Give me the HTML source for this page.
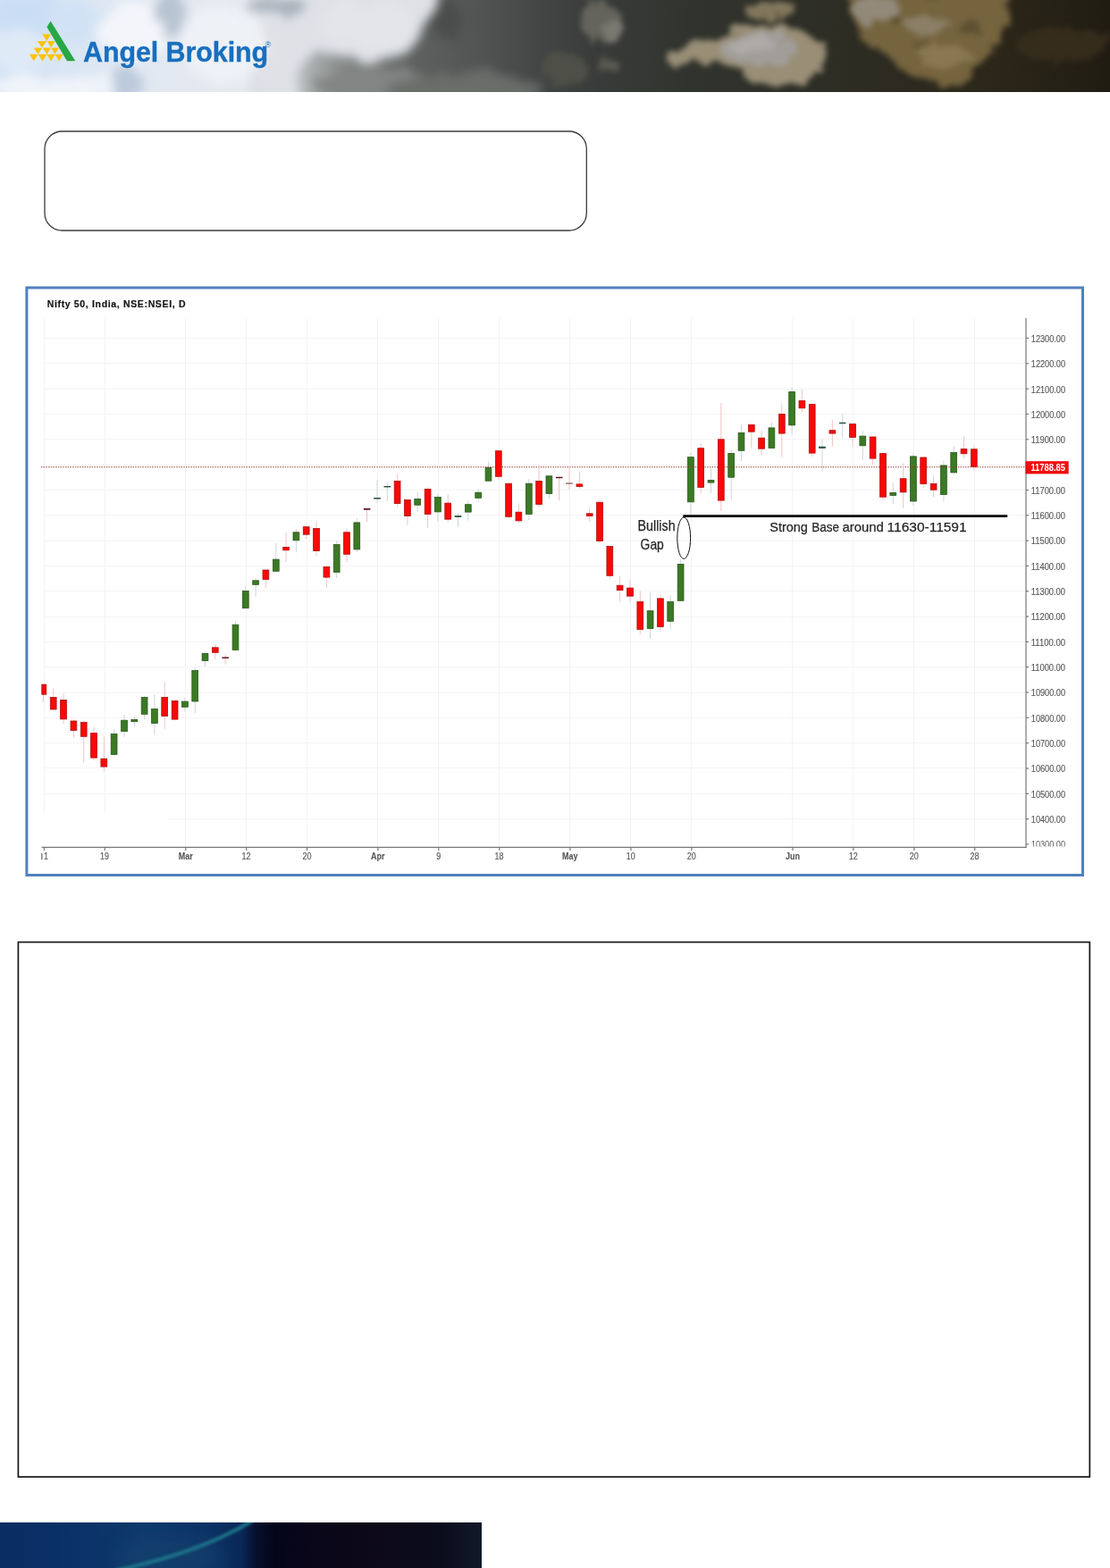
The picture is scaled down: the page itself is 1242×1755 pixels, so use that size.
<!DOCTYPE html>
<html lang="en"><head><meta charset="utf-8"><title>Angel Broking - Nifty 50</title>
<style>
html,body{margin:0;padding:0;background:#fff}
body{width:1242px;height:1755px;position:relative;overflow:hidden;font-family:"Liberation Sans",Arial,sans-serif}
.abs{position:absolute}
#hdr{left:0;top:0;width:1242px;height:102.5px;overflow:hidden}
#hdr svg{position:absolute;left:0;top:0}
#brand{left:93px;top:40.9px;-webkit-text-stroke:0.35px #186fbe;font-weight:bold;font-size:30.5px;line-height:34px;color:#186fbe;white-space:nowrap;letter-spacing:-0.1px}
#reg{left:296.8px;top:45.2px;font-size:9px;line-height:10px;color:#1a70bd}
#ftr{left:0;top:1704px;width:539px;height:51px;overflow:hidden}
svg.chart{position:absolute;left:0;top:0}
</style></head><body>
<div id="hdr" class="abs"><svg width="1242" height="103" viewBox="0 0 1242 103">
<defs>
<linearGradient id="hb" x1="0" x2="1242" y1="0" y2="0" gradientUnits="userSpaceOnUse">
<stop offset="0" stop-color="#d2e2f4"/>
<stop offset="0.1" stop-color="#dfe8f3"/>
<stop offset="0.22" stop-color="#e6e9ef"/>
<stop offset="0.27" stop-color="#b9bcbf"/>
<stop offset="0.31" stop-color="#858886"/>
<stop offset="0.37" stop-color="#5f6260"/>
<stop offset="0.44" stop-color="#4f5251"/>
<stop offset="0.485" stop-color="#434645"/>
<stop offset="0.54" stop-color="#383b39"/>
<stop offset="0.62" stop-color="#31342e"/>
<stop offset="0.76" stop-color="#2d2d24"/>
<stop offset="0.90" stop-color="#2b2619"/>
<stop offset="1" stop-color="#211c12"/>
</linearGradient>
<filter id="cl" x="-20%" y="-40%" width="140%" height="180%" color-interpolation-filters="sRGB">
<feTurbulence type="fractalNoise" baseFrequency="0.03" numOctaves="4" seed="7" result="n"/>
<feDisplacementMap in="SourceGraphic" in2="n" scale="30" xChannelSelector="R" yChannelSelector="G" result="d"/>
<feGaussianBlur in="d" stdDeviation="6"/>
</filter>
<filter id="cl2" x="-20%" y="-40%" width="140%" height="180%" color-interpolation-filters="sRGB">
<feTurbulence type="fractalNoise" baseFrequency="0.06" numOctaves="4" seed="3" result="n"/>
<feDisplacementMap in="SourceGraphic" in2="n" scale="22" xChannelSelector="R" yChannelSelector="G" result="d"/>
<feGaussianBlur in="d" stdDeviation="3.4"/>
</filter>
</defs>
<rect width="1242" height="103" fill="url(#hb)"/>
<g filter="url(#cl)">
<path d="M300 -20 L500 -20 L478 30 L462 58 L420 68 L350 62 L335 80 L332 120 L280 120 Z" fill="#dfe1e7"/>
<ellipse cx="30" cy="14" rx="50" ry="18" fill="#c9ddf4"/>
<ellipse cx="85" cy="25" rx="30" ry="26" fill="#d2e2f5"/>
<ellipse cx="20" cy="55" rx="40" ry="20" fill="#dfeaf7"/>
<ellipse cx="60" cy="98" rx="80" ry="16" fill="#f0f4fa"/>
<ellipse cx="150" cy="35" rx="40" ry="32" fill="#f3f5fa"/>
<ellipse cx="188" cy="16" rx="18" ry="26" fill="#b7c3d0"/>
<ellipse cx="142" cy="92" rx="20" ry="16" fill="#bccadb"/>
<ellipse cx="250" cy="50" rx="50" ry="40" fill="#eef1f6"/>
<ellipse cx="312" cy="8" rx="30" ry="10" fill="#a6afba"/>
<ellipse cx="410" cy="28" rx="50" ry="26" fill="#e3e5ea"/>
<ellipse cx="420" cy="96" rx="70" ry="20" fill="#828583"/>
<ellipse cx="500" cy="20" rx="14" ry="22" fill="#4a4d4b"/>
<ellipse cx="520" cy="100" rx="90" ry="18" fill="#6a6d6a"/>
</g>
<g filter="url(#cl2)">
<ellipse cx="672" cy="24" rx="22" ry="24" fill="#65645c"/>
<ellipse cx="686" cy="36" rx="11" ry="10" fill="#7a7970"/>
<ellipse cx="632" cy="78" rx="26" ry="18" fill="#4e4f47"/>
<ellipse cx="678" cy="74" rx="12" ry="7" fill="#5a5a50"/>
<path d="M745 68 Q760 50 800 42 Q830 22 870 26 Q908 34 922 52 Q926 78 900 96 Q878 98 856 86 Q830 82 808 72 Q775 68 748 76 Z" fill="#998e76"/>
<ellipse cx="868" cy="62" rx="50" ry="32" fill="#998e76"/>
<ellipse cx="850" cy="54" rx="42" ry="20" fill="#a19e9a"/>
<ellipse cx="842" cy="50" rx="24" ry="11" fill="#adaaa8"/>
<ellipse cx="862" cy="12" rx="28" ry="7" fill="#83785d"/>
<path d="M948 -10 L1130 -10 Q1132 30 1110 60 Q1080 95 1050 98 Q1020 90 1000 70 Q970 50 955 35 Z" fill="#75643e"/>
<ellipse cx="982" cy="10" rx="30" ry="16" fill="#93897a"/>
<ellipse cx="1035" cy="28" rx="22" ry="12" fill="#8b7f68"/>
<ellipse cx="1060" cy="62" rx="30" ry="12" fill="#8a7850"/>
<ellipse cx="1005" cy="22" rx="8" ry="5" fill="#5c5030"/>
<ellipse cx="1085" cy="32" rx="10" ry="5" fill="#5c5030"/>
<ellipse cx="1030" cy="52" rx="8" ry="5" fill="#5e5232"/>
<ellipse cx="1190" cy="50" rx="50" ry="20" fill="#352c1c"/>
</g>
<g id="logo">
<polygon points="56.6,23.4 84.3,68.2 75,68.2 52.4,30.2" fill="#27a745"/>
<g fill="#fcc30b">
<polygon points="47.4,38.3 57,38.3 52.2,45.9"/>
<polygon points="41.7,45.9 52.2,45.9 47,53.3"/><polygon points="52.6,45.9 61.6,45.9 57.1,53.3"/>
<polygon points="37.6,53.6 47.4,53.6 42.5,60.7"/><polygon points="47.7,53.6 57.1,53.6 52.4,60.7"/><polygon points="57,53.6 66,53.6 61.5,60.7"/>
<polygon points="32.8,60.7 42.6,60.7 37.7,68.5"/><polygon points="42.5,60.7 52.6,60.7 47.5,68.5"/><polygon points="52.2,60.7 61.9,60.7 57,68.5"/><polygon points="61.5,60.7 70.8,60.7 66.2,68.5"/>
</g>
</g>
</svg>
</div>
<div id="brand" class="abs">Angel Broking</div>
<div id="reg" class="abs">®</div>
<svg class="chart" width="1242" height="1755" viewBox="0 0 1242 1755">
<rect x="29.9" y="322" width="1181.6" height="657.5" fill="#fff" stroke="#4f81bd" stroke-width="3"/>
<g stroke="#f4f4f4" stroke-width="1" shape-rendering="crispEdges">
<line x1="188" y1="916.5" x2="1148" y2="916.5"/>
<line x1="49" y1="888.5" x2="1148" y2="888.5"/>
<line x1="49" y1="859.5" x2="1148" y2="859.5"/>
<line x1="49" y1="831.5" x2="1148" y2="831.5"/>
<line x1="49" y1="803.5" x2="1148" y2="803.5"/>
<line x1="49" y1="775.5" x2="1148" y2="775.5"/>
<line x1="49" y1="746.5" x2="1148" y2="746.5"/>
<line x1="49" y1="718.5" x2="1148" y2="718.5"/>
<line x1="49" y1="690.5" x2="1148" y2="690.5"/>
<line x1="49" y1="661.5" x2="1148" y2="661.5"/>
<line x1="49" y1="633.5" x2="1148" y2="633.5"/>
<line x1="49" y1="605.5" x2="1148" y2="605.5"/>
<line x1="49" y1="576.5" x2="1148" y2="576.5"/>
<line x1="49" y1="548.5" x2="1148" y2="548.5"/>
<line x1="49" y1="520.5" x2="1148" y2="520.5"/>
<line x1="49" y1="491.5" x2="1148" y2="491.5"/>
<line x1="49" y1="463.5" x2="1148" y2="463.5"/>
<line x1="49" y1="435.5" x2="1148" y2="435.5"/>
<line x1="49" y1="406.5" x2="1148" y2="406.5"/>
<line x1="49" y1="378.5" x2="1148" y2="378.5"/>
<line x1="49.5" y1="356" x2="49.5" y2="911"/>
<line x1="117.5" y1="356" x2="117.5" y2="911"/>
<line x1="207.5" y1="356" x2="207.5" y2="948"/>
<line x1="275.5" y1="356" x2="275.5" y2="948"/>
<line x1="343.5" y1="356" x2="343.5" y2="948"/>
<line x1="422.5" y1="356" x2="422.5" y2="948"/>
<line x1="490.5" y1="356" x2="490.5" y2="948"/>
<line x1="558.5" y1="356" x2="558.5" y2="948"/>
<line x1="637.5" y1="356" x2="637.5" y2="948"/>
<line x1="705.5" y1="356" x2="705.5" y2="948"/>
<line x1="773.5" y1="356" x2="773.5" y2="948"/>
<line x1="886.5" y1="356" x2="886.5" y2="948"/>
<line x1="954.5" y1="356" x2="954.5" y2="948"/>
<line x1="1022.5" y1="356" x2="1022.5" y2="948"/>
<line x1="1090.5" y1="356" x2="1090.5" y2="948"/>
</g>
<g stroke="#777" stroke-width="1.2">
<line x1="46.6" y1="948.3" x2="1148.6" y2="948.3"/>
<line x1="1148" y1="356" x2="1148" y2="948.9"/>
<line x1="1148" y1="944.9" x2="1151" y2="944.9"/>
<line x1="1148" y1="916.6" x2="1151" y2="916.6"/>
<line x1="1148" y1="888.3" x2="1151" y2="888.3"/>
<line x1="1148" y1="860.0" x2="1151" y2="860.0"/>
<line x1="1148" y1="831.7" x2="1151" y2="831.7"/>
<line x1="1148" y1="803.3" x2="1151" y2="803.3"/>
<line x1="1148" y1="775.0" x2="1151" y2="775.0"/>
<line x1="1148" y1="746.7" x2="1151" y2="746.7"/>
<line x1="1148" y1="718.4" x2="1151" y2="718.4"/>
<line x1="1148" y1="690.1" x2="1151" y2="690.1"/>
<line x1="1148" y1="661.7" x2="1151" y2="661.7"/>
<line x1="1148" y1="633.4" x2="1151" y2="633.4"/>
<line x1="1148" y1="605.1" x2="1151" y2="605.1"/>
<line x1="1148" y1="576.8" x2="1151" y2="576.8"/>
<line x1="1148" y1="548.5" x2="1151" y2="548.5"/>
<line x1="1148" y1="520.1" x2="1151" y2="520.1"/>
<line x1="1148" y1="491.8" x2="1151" y2="491.8"/>
<line x1="1148" y1="463.5" x2="1151" y2="463.5"/>
<line x1="1148" y1="435.2" x2="1151" y2="435.2"/>
<line x1="1148" y1="406.9" x2="1151" y2="406.9"/>
<line x1="1148" y1="378.5" x2="1151" y2="378.5"/>
<line x1="49.3" y1="948" x2="49.3" y2="952"/>
<line x1="117.2" y1="948" x2="117.2" y2="952"/>
<line x1="207.8" y1="948" x2="207.8" y2="952"/>
<line x1="275.7" y1="948" x2="275.7" y2="952"/>
<line x1="343.6" y1="948" x2="343.6" y2="952"/>
<line x1="422.9" y1="948" x2="422.9" y2="952"/>
<line x1="490.8" y1="948" x2="490.8" y2="952"/>
<line x1="558.7" y1="948" x2="558.7" y2="952"/>
<line x1="637.9" y1="948" x2="637.9" y2="952"/>
<line x1="705.9" y1="948" x2="705.9" y2="952"/>
<line x1="773.8" y1="948" x2="773.8" y2="952"/>
<line x1="887.0" y1="948" x2="887.0" y2="952"/>
<line x1="954.9" y1="948" x2="954.9" y2="952"/>
<line x1="1022.8" y1="948" x2="1022.8" y2="952"/>
<line x1="1090.7" y1="948" x2="1090.7" y2="952"/>
</g>
<g font-family="'Liberation Sans',Arial,sans-serif" font-size="10.2" fill="#585858" stroke="#585858" stroke-width="0.15">
<text x="1153.8" y="920.9" textLength="38.2" lengthAdjust="spacingAndGlyphs">10400.00</text>
<text x="1153.8" y="892.6" textLength="38.2" lengthAdjust="spacingAndGlyphs">10500.00</text>
<text x="1153.8" y="864.3" textLength="38.2" lengthAdjust="spacingAndGlyphs">10600.00</text>
<text x="1153.8" y="836.0" textLength="38.2" lengthAdjust="spacingAndGlyphs">10700.00</text>
<text x="1153.8" y="807.6" textLength="38.2" lengthAdjust="spacingAndGlyphs">10800.00</text>
<text x="1153.8" y="779.3" textLength="38.2" lengthAdjust="spacingAndGlyphs">10900.00</text>
<text x="1153.8" y="751.0" textLength="38.2" lengthAdjust="spacingAndGlyphs">11000.00</text>
<text x="1153.8" y="722.7" textLength="38.2" lengthAdjust="spacingAndGlyphs">11100.00</text>
<text x="1153.8" y="694.4" textLength="38.2" lengthAdjust="spacingAndGlyphs">11200.00</text>
<text x="1153.8" y="666.0" textLength="38.2" lengthAdjust="spacingAndGlyphs">11300.00</text>
<text x="1153.8" y="637.7" textLength="38.2" lengthAdjust="spacingAndGlyphs">11400.00</text>
<text x="1153.8" y="609.4" textLength="38.2" lengthAdjust="spacingAndGlyphs">11500.00</text>
<text x="1153.8" y="581.1" textLength="38.2" lengthAdjust="spacingAndGlyphs">11600.00</text>
<text x="1153.8" y="552.8" textLength="38.2" lengthAdjust="spacingAndGlyphs">11700.00</text>
<text x="1153.8" y="496.1" textLength="38.2" lengthAdjust="spacingAndGlyphs">11900.00</text>
<text x="1153.8" y="467.8" textLength="38.2" lengthAdjust="spacingAndGlyphs">12000.00</text>
<text x="1153.8" y="439.5" textLength="38.2" lengthAdjust="spacingAndGlyphs">12100.00</text>
<text x="1153.8" y="411.2" textLength="38.2" lengthAdjust="spacingAndGlyphs">12200.00</text>
<text x="1153.8" y="382.8" textLength="38.2" lengthAdjust="spacingAndGlyphs">12300.00</text>
</g>
<clipPath id="c103"><rect x="1150" y="930" width="60" height="17.5"/></clipPath>
<text clip-path="url(#c103)" font-family="'Liberation Sans',Arial,sans-serif" font-size="10.2" fill="#585858" x="1153.8" y="949.2" textLength="38.2" lengthAdjust="spacingAndGlyphs">10300.00</text>
<g font-family="'Liberation Sans',Arial,sans-serif" font-size="10.2" fill="#585858" stroke="#585858" stroke-width="0.15" text-anchor="middle">
<text transform="translate(48.9,962.1) scale(0.88,1)" text-anchor="start">1</text>
<rect x="46.3" y="955" width="1.1" height="7.2" fill="#555" stroke="none"/>
<text transform="translate(117.1,962.1) scale(0.88,1)">19</text>
<text transform="translate(207.7,962.1) scale(0.88,1)" font-weight="bold">Mar</text>
<text transform="translate(275.6,962.1) scale(0.88,1)">12</text>
<text transform="translate(343.5,962.1) scale(0.88,1)">20</text>
<text transform="translate(422.8,962.1) scale(0.88,1)" font-weight="bold">Apr</text>
<text transform="translate(490.7,962.1) scale(0.88,1)">9</text>
<text transform="translate(558.6,962.1) scale(0.88,1)">18</text>
<text transform="translate(637.8,962.1) scale(0.88,1)" font-weight="bold">May</text>
<text transform="translate(705.8,962.1) scale(0.88,1)">10</text>
<text transform="translate(773.7,962.1) scale(0.88,1)">20</text>
<text transform="translate(886.9,962.1) scale(0.88,1)" font-weight="bold">Jun</text>
<text transform="translate(954.8,962.1) scale(0.88,1)">12</text>
<text transform="translate(1022.7,962.1) scale(0.88,1)">20</text>
<text transform="translate(1090.6,962.1) scale(0.88,1)">28</text>
</g>
<text x="52.7" y="343.8" font-family="'Liberation Sans',Arial,sans-serif" font-size="10.5" font-weight="bold" fill="#151515" stroke="#151515" stroke-width="0.2" textLength="154.8" lengthAdjust="spacing">Nifty 50, India, NSE:NSEI, D</text>
<g>
<line x1="127.6" y1="816.1" x2="127.6" y2="844.8" stroke="#ccd6de" stroke-width="1"/>
<rect x="124.2" y="821.5" width="6.8" height="22.9" fill="#3a7a24" stroke="#2b581b" stroke-width="0.8"/>
<line x1="139.0" y1="800.0" x2="139.0" y2="824.7" stroke="#ccd6de" stroke-width="1"/>
<rect x="135.6" y="806.2" width="6.8" height="12.4" fill="#3a7a24" stroke="#2b581b" stroke-width="0.8"/>
<line x1="150.3" y1="802.1" x2="150.3" y2="814.2" stroke="#ccd6de" stroke-width="1"/>
<rect x="146.9" y="805.4" width="6.8" height="2.3" fill="#3a7a24" stroke="#2b581b" stroke-width="0.8"/>
<line x1="161.6" y1="778.8" x2="161.6" y2="805.3" stroke="#ccd6de" stroke-width="1"/>
<rect x="158.2" y="780.6" width="6.8" height="18.7" fill="#3a7a24" stroke="#2b581b" stroke-width="0.8"/>
<line x1="172.9" y1="777.2" x2="172.9" y2="823.0" stroke="#ccd6de" stroke-width="1"/>
<rect x="169.5" y="793.5" width="6.8" height="16.0" fill="#3a7a24" stroke="#2b581b" stroke-width="0.8"/>
<line x1="206.9" y1="781.2" x2="206.9" y2="796.5" stroke="#ccd6de" stroke-width="1"/>
<rect x="203.5" y="785.1" width="6.8" height="6.2" fill="#3a7a24" stroke="#2b581b" stroke-width="0.8"/>
<line x1="218.2" y1="747.4" x2="218.2" y2="798.1" stroke="#ccd6de" stroke-width="1"/>
<rect x="214.8" y="750.5" width="6.8" height="34.5" fill="#3a7a24" stroke="#2b581b" stroke-width="0.8"/>
<line x1="229.5" y1="729.4" x2="229.5" y2="746.0" stroke="#ccd6de" stroke-width="1"/>
<rect x="226.1" y="731.4" width="6.8" height="8.0" fill="#3a7a24" stroke="#2b581b" stroke-width="0.8"/>
<line x1="263.5" y1="695.3" x2="263.5" y2="727.8" stroke="#ccd6de" stroke-width="1"/>
<rect x="260.1" y="699.2" width="6.8" height="28.2" fill="#3a7a24" stroke="#2b581b" stroke-width="0.8"/>
<line x1="274.8" y1="656.1" x2="274.8" y2="681.1" stroke="#ccd6de" stroke-width="1"/>
<rect x="271.4" y="661.5" width="6.8" height="19.2" fill="#3a7a24" stroke="#2b581b" stroke-width="0.8"/>
<line x1="286.1" y1="647.0" x2="286.1" y2="667.6" stroke="#ccd6de" stroke-width="1"/>
<rect x="282.7" y="649.8" width="6.8" height="4.5" fill="#3a7a24" stroke="#2b581b" stroke-width="0.8"/>
<line x1="308.8" y1="608.0" x2="308.8" y2="639.7" stroke="#ccd6de" stroke-width="1"/>
<rect x="305.4" y="626.1" width="6.8" height="13.2" fill="#3a7a24" stroke="#2b581b" stroke-width="0.8"/>
<line x1="331.4" y1="591.9" x2="331.4" y2="618.3" stroke="#ccd6de" stroke-width="1"/>
<rect x="328.0" y="595.8" width="6.8" height="9.0" fill="#3a7a24" stroke="#2b581b" stroke-width="0.8"/>
<line x1="376.7" y1="605.1" x2="376.7" y2="647.0" stroke="#ccd6de" stroke-width="1"/>
<rect x="373.3" y="609.5" width="6.8" height="30.9" fill="#3a7a24" stroke="#2b581b" stroke-width="0.8"/>
<line x1="399.3" y1="579.8" x2="399.3" y2="618.0" stroke="#ccd6de" stroke-width="1"/>
<rect x="395.9" y="584.9" width="6.8" height="30.0" fill="#3a7a24" stroke="#2b581b" stroke-width="0.8"/>
<line x1="422.0" y1="537.0" x2="422.0" y2="563.5" stroke="#ccd6de" stroke-width="1"/>
<rect x="418.6" y="557.5" width="6.8" height="0.6" fill="#2f5f3a" stroke="#24503a" stroke-width="0.8"/>
<line x1="433.3" y1="539.7" x2="433.3" y2="560.8" stroke="#ccd6de" stroke-width="1"/>
<rect x="429.9" y="544.4" width="6.8" height="0.6" fill="#2f5f3a" stroke="#24503a" stroke-width="0.8"/>
<line x1="467.2" y1="550.6" x2="467.2" y2="573.2" stroke="#ccd6de" stroke-width="1"/>
<rect x="463.8" y="558.5" width="6.8" height="6.7" fill="#3a7a24" stroke="#2b581b" stroke-width="0.8"/>
<line x1="489.9" y1="552.3" x2="489.9" y2="583.7" stroke="#ccd6de" stroke-width="1"/>
<rect x="486.5" y="556.5" width="6.8" height="16.4" fill="#3a7a24" stroke="#2b581b" stroke-width="0.8"/>
<line x1="512.5" y1="574.3" x2="512.5" y2="589.8" stroke="#ccd6de" stroke-width="1"/>
<rect x="509.1" y="577.6" width="6.8" height="0.8" fill="#2f5f3a" stroke="#24503a" stroke-width="0.8"/>
<line x1="523.8" y1="560.3" x2="523.8" y2="582.9" stroke="#ccd6de" stroke-width="1"/>
<rect x="520.4" y="564.7" width="6.8" height="8.4" fill="#3a7a24" stroke="#2b581b" stroke-width="0.8"/>
<line x1="535.2" y1="547.1" x2="535.2" y2="562.7" stroke="#ccd6de" stroke-width="1"/>
<rect x="531.8" y="551.2" width="6.8" height="6.1" fill="#3a7a24" stroke="#2b581b" stroke-width="0.8"/>
<line x1="546.5" y1="516.8" x2="546.5" y2="538.6" stroke="#ccd6de" stroke-width="1"/>
<rect x="543.1" y="523.3" width="6.8" height="14.9" fill="#3a7a24" stroke="#2b581b" stroke-width="0.8"/>
<line x1="591.8" y1="536.2" x2="591.8" y2="582.4" stroke="#ccd6de" stroke-width="1"/>
<rect x="588.4" y="541.2" width="6.8" height="34.2" fill="#3a7a24" stroke="#2b581b" stroke-width="0.8"/>
<line x1="614.4" y1="532.4" x2="614.4" y2="558.5" stroke="#ccd6de" stroke-width="1"/>
<rect x="611.0" y="532.8" width="6.8" height="19.6" fill="#3a7a24" stroke="#2b581b" stroke-width="0.8"/>
<line x1="727.6" y1="663.3" x2="727.6" y2="714.7" stroke="#ccd6de" stroke-width="1"/>
<rect x="724.2" y="683.7" width="6.8" height="19.8" fill="#3a7a24" stroke="#2b581b" stroke-width="0.8"/>
<line x1="750.2" y1="666.5" x2="750.2" y2="704.6" stroke="#ccd6de" stroke-width="1"/>
<rect x="746.8" y="673.6" width="6.8" height="21.7" fill="#3a7a24" stroke="#2b581b" stroke-width="0.8"/>
<line x1="761.6" y1="626.1" x2="761.6" y2="672.7" stroke="#ccd6de" stroke-width="1"/>
<rect x="758.2" y="631.5" width="6.8" height="40.8" fill="#3a7a24" stroke="#2b581b" stroke-width="0.8"/>
<line x1="772.9" y1="506.8" x2="772.9" y2="576.0" stroke="#ccd6de" stroke-width="1"/>
<rect x="769.5" y="511.7" width="6.8" height="50.1" fill="#3a7a24" stroke="#2b581b" stroke-width="0.8"/>
<line x1="795.5" y1="523.8" x2="795.5" y2="552.0" stroke="#ccd6de" stroke-width="1"/>
<rect x="792.1" y="537.5" width="6.8" height="2.6" fill="#3a7a24" stroke="#2b581b" stroke-width="0.8"/>
<line x1="818.2" y1="502.9" x2="818.2" y2="560.0" stroke="#ccd6de" stroke-width="1"/>
<rect x="814.8" y="507.4" width="6.8" height="26.8" fill="#3a7a24" stroke="#2b581b" stroke-width="0.8"/>
<line x1="829.5" y1="474.6" x2="829.5" y2="516.0" stroke="#ccd6de" stroke-width="1"/>
<rect x="826.1" y="484.5" width="6.8" height="19.8" fill="#3a7a24" stroke="#2b581b" stroke-width="0.8"/>
<line x1="863.4" y1="472.3" x2="863.4" y2="501.8" stroke="#ccd6de" stroke-width="1"/>
<rect x="860.0" y="478.9" width="6.8" height="22.5" fill="#3a7a24" stroke="#2b581b" stroke-width="0.8"/>
<line x1="886.1" y1="433.3" x2="886.1" y2="485.9" stroke="#ccd6de" stroke-width="1"/>
<rect x="882.7" y="438.6" width="6.8" height="37.3" fill="#3a7a24" stroke="#2b581b" stroke-width="0.8"/>
<line x1="920.0" y1="491.7" x2="920.0" y2="527.7" stroke="#ccd6de" stroke-width="1"/>
<rect x="916.6" y="500.1" width="6.8" height="1.3" fill="#2f5f3a" stroke="#24503a" stroke-width="0.8"/>
<line x1="942.7" y1="463.0" x2="942.7" y2="490.5" stroke="#ccd6de" stroke-width="1"/>
<rect x="939.3" y="473.2" width="6.8" height="0.6" fill="#2f5f3a" stroke="#24503a" stroke-width="0.8"/>
<line x1="965.3" y1="482.4" x2="965.3" y2="514.8" stroke="#ccd6de" stroke-width="1"/>
<rect x="961.9" y="488.1" width="6.8" height="10.7" fill="#3a7a24" stroke="#2b581b" stroke-width="0.8"/>
<line x1="999.3" y1="540.5" x2="999.3" y2="564.4" stroke="#ccd6de" stroke-width="1"/>
<rect x="995.9" y="551.5" width="6.8" height="2.9" fill="#3a7a24" stroke="#2b581b" stroke-width="0.8"/>
<line x1="1021.9" y1="507.7" x2="1021.9" y2="566.1" stroke="#ccd6de" stroke-width="1"/>
<rect x="1018.5" y="510.9" width="6.8" height="50.1" fill="#3a7a24" stroke="#2b581b" stroke-width="0.8"/>
<line x1="1055.9" y1="515.7" x2="1055.9" y2="561.7" stroke="#ccd6de" stroke-width="1"/>
<rect x="1052.5" y="521.0" width="6.8" height="32.5" fill="#3a7a24" stroke="#2b581b" stroke-width="0.8"/>
<line x1="1067.2" y1="499.4" x2="1067.2" y2="529.3" stroke="#ccd6de" stroke-width="1"/>
<rect x="1063.8" y="506.5" width="6.8" height="22.4" fill="#3a7a24" stroke="#2b581b" stroke-width="0.8"/>
</g>
<line x1="46" y1="522.7" x2="1148" y2="522.7" stroke="#93352e" stroke-width="1.1" stroke-dasharray="1.4 1.3"/>
<g>
<line x1="48.4" y1="765.7" x2="48.4" y2="786.0" stroke="#f2c4c4" stroke-width="1"/>
<rect x="46.8" y="766.1" width="5.0" height="11.1" fill="#fb0808" stroke="#ad1010" stroke-width="0.8"/>
<line x1="59.7" y1="770.7" x2="59.7" y2="794.4" stroke="#f2c4c4" stroke-width="1"/>
<rect x="56.3" y="780.6" width="6.8" height="13.4" fill="#fb0808" stroke="#ad1010" stroke-width="0.8"/>
<line x1="71.0" y1="776.4" x2="71.0" y2="810.2" stroke="#f2c4c4" stroke-width="1"/>
<rect x="67.6" y="783.5" width="6.8" height="21.4" fill="#fb0808" stroke="#ad1010" stroke-width="0.8"/>
<line x1="82.4" y1="805.3" x2="82.4" y2="825.5" stroke="#f2c4c4" stroke-width="1"/>
<rect x="79.0" y="807.0" width="6.8" height="10.5" fill="#fb0808" stroke="#ad1010" stroke-width="0.8"/>
<line x1="93.7" y1="807.0" x2="93.7" y2="853.7" stroke="#f2c4c4" stroke-width="1"/>
<rect x="90.3" y="808.6" width="6.8" height="15.7" fill="#fb0808" stroke="#ad1010" stroke-width="0.8"/>
<line x1="105.0" y1="814.2" x2="105.0" y2="851.2" stroke="#f2c4c4" stroke-width="1"/>
<rect x="101.6" y="820.6" width="6.8" height="27.5" fill="#fb0808" stroke="#ad1010" stroke-width="0.8"/>
<line x1="116.3" y1="824.7" x2="116.3" y2="863.3" stroke="#f2c4c4" stroke-width="1"/>
<rect x="112.9" y="849.2" width="6.8" height="8.9" fill="#fb0808" stroke="#ad1010" stroke-width="0.8"/>
<line x1="184.2" y1="763.5" x2="184.2" y2="816.3" stroke="#f2c4c4" stroke-width="1"/>
<rect x="180.8" y="780.6" width="6.8" height="20.8" fill="#fb0808" stroke="#ad1010" stroke-width="0.8"/>
<line x1="195.6" y1="784.1" x2="195.6" y2="805.5" stroke="#f2c4c4" stroke-width="1"/>
<rect x="192.2" y="784.5" width="6.8" height="20.6" fill="#fb0808" stroke="#ad1010" stroke-width="0.8"/>
<line x1="240.8" y1="720.7" x2="240.8" y2="738.0" stroke="#f2c4c4" stroke-width="1"/>
<rect x="237.4" y="724.8" width="6.8" height="5.5" fill="#fb0808" stroke="#ad1010" stroke-width="0.8"/>
<line x1="252.2" y1="732.6" x2="252.2" y2="743.6" stroke="#efbcc0" stroke-width="1"/>
<rect x="248.8" y="735.9" width="6.8" height="0.6" fill="#7a1020" stroke="#5a0c18" stroke-width="0.8"/>
<line x1="297.4" y1="637.6" x2="297.4" y2="657.9" stroke="#f2c4c4" stroke-width="1"/>
<rect x="294.0" y="638.0" width="6.8" height="10.5" fill="#fb0808" stroke="#ad1010" stroke-width="0.8"/>
<line x1="320.1" y1="596.2" x2="320.1" y2="629.2" stroke="#f2c4c4" stroke-width="1"/>
<rect x="316.7" y="612.4" width="6.8" height="3.4" fill="#fb0808" stroke="#ad1010" stroke-width="0.8"/>
<line x1="342.7" y1="589.3" x2="342.7" y2="603.5" stroke="#f2c4c4" stroke-width="1"/>
<rect x="339.3" y="589.7" width="6.8" height="8.5" fill="#fb0808" stroke="#ad1010" stroke-width="0.8"/>
<line x1="354.0" y1="583.8" x2="354.0" y2="622.5" stroke="#f2c4c4" stroke-width="1"/>
<rect x="350.6" y="591.5" width="6.8" height="25.1" fill="#fb0808" stroke="#ad1010" stroke-width="0.8"/>
<line x1="365.4" y1="634.1" x2="365.4" y2="657.9" stroke="#f2c4c4" stroke-width="1"/>
<rect x="362.0" y="634.5" width="6.8" height="11.6" fill="#fb0808" stroke="#ad1010" stroke-width="0.8"/>
<line x1="388.0" y1="591.9" x2="388.0" y2="629.2" stroke="#f2c4c4" stroke-width="1"/>
<rect x="384.6" y="595.8" width="6.8" height="24.5" fill="#fb0808" stroke="#ad1010" stroke-width="0.8"/>
<line x1="410.6" y1="569.1" x2="410.6" y2="584.0" stroke="#efbcc0" stroke-width="1"/>
<rect x="407.2" y="569.5" width="6.8" height="0.7" fill="#7a1020" stroke="#5a0c18" stroke-width="0.8"/>
<line x1="444.6" y1="530.5" x2="444.6" y2="567.6" stroke="#f2c4c4" stroke-width="1"/>
<rect x="441.2" y="538.5" width="6.8" height="25.1" fill="#fb0808" stroke="#ad1010" stroke-width="0.8"/>
<line x1="455.9" y1="559.2" x2="455.9" y2="587.7" stroke="#f2c4c4" stroke-width="1"/>
<rect x="452.5" y="559.6" width="6.8" height="17.9" fill="#fb0808" stroke="#ad1010" stroke-width="0.8"/>
<line x1="478.6" y1="545.0" x2="478.6" y2="590.9" stroke="#f2c4c4" stroke-width="1"/>
<rect x="475.2" y="547.5" width="6.8" height="27.9" fill="#fb0808" stroke="#ad1010" stroke-width="0.8"/>
<line x1="501.2" y1="553.4" x2="501.2" y2="584.5" stroke="#f2c4c4" stroke-width="1"/>
<rect x="497.8" y="563.1" width="6.8" height="18.1" fill="#fb0808" stroke="#ad1010" stroke-width="0.8"/>
<line x1="557.8" y1="504.3" x2="557.8" y2="537.0" stroke="#f2c4c4" stroke-width="1"/>
<rect x="554.4" y="504.7" width="6.8" height="28.6" fill="#fb0808" stroke="#ad1010" stroke-width="0.8"/>
<line x1="569.1" y1="540.8" x2="569.1" y2="578.7" stroke="#f2c4c4" stroke-width="1"/>
<rect x="565.7" y="541.2" width="6.8" height="37.1" fill="#fb0808" stroke="#ad1010" stroke-width="0.8"/>
<line x1="580.4" y1="563.5" x2="580.4" y2="585.3" stroke="#f2c4c4" stroke-width="1"/>
<rect x="577.0" y="573.2" width="6.8" height="9.7" fill="#fb0808" stroke="#ad1010" stroke-width="0.8"/>
<line x1="603.1" y1="520.4" x2="603.1" y2="568.2" stroke="#f2c4c4" stroke-width="1"/>
<rect x="599.7" y="538.5" width="6.8" height="26.0" fill="#fb0808" stroke="#ad1010" stroke-width="0.8"/>
<line x1="625.7" y1="533.8" x2="625.7" y2="560.2" stroke="#efbcc0" stroke-width="1"/>
<rect x="622.3" y="534.2" width="6.8" height="0.6" fill="#7a1020" stroke="#5a0c18" stroke-width="0.8"/>
<line x1="637.0" y1="522.7" x2="637.0" y2="547.8" stroke="#f2c4c4" stroke-width="1"/>
<rect x="633.6" y="540.8" width="6.8" height="0.6" fill="#b08a8a" stroke="#a07070" stroke-width="0.8"/>
<line x1="648.4" y1="527.5" x2="648.4" y2="547.0" stroke="#f2c4c4" stroke-width="1"/>
<rect x="645.0" y="541.9" width="6.8" height="2.7" fill="#fb0808" stroke="#ad1010" stroke-width="0.8"/>
<line x1="659.7" y1="567.3" x2="659.7" y2="584.1" stroke="#f2c4c4" stroke-width="1"/>
<rect x="656.3" y="574.8" width="6.8" height="2.6" fill="#fb0808" stroke="#ad1010" stroke-width="0.8"/>
<line x1="671.0" y1="560.2" x2="671.0" y2="608.0" stroke="#f2c4c4" stroke-width="1"/>
<rect x="667.6" y="562.2" width="6.8" height="43.3" fill="#fb0808" stroke="#ad1010" stroke-width="0.8"/>
<line x1="682.3" y1="611.2" x2="682.3" y2="647.4" stroke="#f2c4c4" stroke-width="1"/>
<rect x="678.9" y="611.6" width="6.8" height="32.7" fill="#fb0808" stroke="#ad1010" stroke-width="0.8"/>
<line x1="693.6" y1="644.9" x2="693.6" y2="674.0" stroke="#f2c4c4" stroke-width="1"/>
<rect x="690.2" y="655.2" width="6.8" height="5.4" fill="#fb0808" stroke="#ad1010" stroke-width="0.8"/>
<line x1="705.0" y1="648.4" x2="705.0" y2="674.5" stroke="#f2c4c4" stroke-width="1"/>
<rect x="701.6" y="658.1" width="6.8" height="9.1" fill="#fb0808" stroke="#ad1010" stroke-width="0.8"/>
<line x1="716.3" y1="661.6" x2="716.3" y2="709.9" stroke="#f2c4c4" stroke-width="1"/>
<rect x="712.9" y="673.6" width="6.8" height="30.8" fill="#fb0808" stroke="#ad1010" stroke-width="0.8"/>
<line x1="738.9" y1="665.6" x2="738.9" y2="706.4" stroke="#f2c4c4" stroke-width="1"/>
<rect x="735.5" y="669.9" width="6.8" height="31.6" fill="#fb0808" stroke="#ad1010" stroke-width="0.8"/>
<line x1="784.2" y1="496.2" x2="784.2" y2="552.0" stroke="#f2c4c4" stroke-width="1"/>
<rect x="780.8" y="501.7" width="6.8" height="43.7" fill="#fb0808" stroke="#ad1010" stroke-width="0.8"/>
<line x1="806.8" y1="451.0" x2="806.8" y2="572.0" stroke="#f2c4c4" stroke-width="1"/>
<rect x="803.4" y="491.8" width="6.8" height="68.3" fill="#fb0808" stroke="#ad1010" stroke-width="0.8"/>
<line x1="840.8" y1="475.1" x2="840.8" y2="501.1" stroke="#f2c4c4" stroke-width="1"/>
<rect x="837.4" y="475.5" width="6.8" height="7.7" fill="#fb0808" stroke="#ad1010" stroke-width="0.8"/>
<line x1="852.1" y1="482.0" x2="852.1" y2="509.5" stroke="#f2c4c4" stroke-width="1"/>
<rect x="848.7" y="490.2" width="6.8" height="12.0" fill="#fb0808" stroke="#ad1010" stroke-width="0.8"/>
<line x1="874.8" y1="451.9" x2="874.8" y2="511.8" stroke="#f2c4c4" stroke-width="1"/>
<rect x="871.4" y="463.4" width="6.8" height="21.7" fill="#fb0808" stroke="#ad1010" stroke-width="0.8"/>
<line x1="897.4" y1="435.6" x2="897.4" y2="461.1" stroke="#f2c4c4" stroke-width="1"/>
<rect x="894.0" y="448.6" width="6.8" height="8.2" fill="#fb0808" stroke="#ad1010" stroke-width="0.8"/>
<line x1="908.7" y1="452.2" x2="908.7" y2="511.2" stroke="#f2c4c4" stroke-width="1"/>
<rect x="905.3" y="452.6" width="6.8" height="54.5" fill="#fb0808" stroke="#ad1010" stroke-width="0.8"/>
<line x1="931.4" y1="470.1" x2="931.4" y2="499.7" stroke="#f2c4c4" stroke-width="1"/>
<rect x="928.0" y="481.7" width="6.8" height="3.4" fill="#fb0808" stroke="#ad1010" stroke-width="0.8"/>
<line x1="954.0" y1="474.2" x2="954.0" y2="500.1" stroke="#f2c4c4" stroke-width="1"/>
<rect x="950.6" y="474.6" width="6.8" height="14.8" fill="#fb0808" stroke="#ad1010" stroke-width="0.8"/>
<line x1="976.6" y1="488.6" x2="976.6" y2="520.1" stroke="#f2c4c4" stroke-width="1"/>
<rect x="973.2" y="489.0" width="6.8" height="24.1" fill="#fb0808" stroke="#ad1010" stroke-width="0.8"/>
<line x1="988.0" y1="507.2" x2="988.0" y2="560.0" stroke="#f2c4c4" stroke-width="1"/>
<rect x="984.6" y="507.6" width="6.8" height="48.6" fill="#fb0808" stroke="#ad1010" stroke-width="0.8"/>
<line x1="1010.6" y1="518.3" x2="1010.6" y2="568.8" stroke="#f2c4c4" stroke-width="1"/>
<rect x="1007.2" y="535.7" width="6.8" height="15.2" fill="#fb0808" stroke="#ad1010" stroke-width="0.8"/>
<line x1="1033.2" y1="511.6" x2="1033.2" y2="546.1" stroke="#f2c4c4" stroke-width="1"/>
<rect x="1029.8" y="512.0" width="6.8" height="29.5" fill="#fb0808" stroke="#ad1010" stroke-width="0.8"/>
<line x1="1044.6" y1="532.0" x2="1044.6" y2="556.4" stroke="#f2c4c4" stroke-width="1"/>
<rect x="1041.2" y="541.4" width="6.8" height="6.8" fill="#fb0808" stroke="#ad1010" stroke-width="0.8"/>
<line x1="1078.5" y1="488.2" x2="1078.5" y2="513.0" stroke="#f2c4c4" stroke-width="1"/>
<rect x="1075.1" y="502.6" width="6.8" height="5.2" fill="#fb0808" stroke="#ad1010" stroke-width="0.8"/>
<line x1="1089.8" y1="499.4" x2="1089.8" y2="526.3" stroke="#f2c4c4" stroke-width="1"/>
<rect x="1086.4" y="502.8" width="6.8" height="19.5" fill="#fb0808" stroke="#ad1010" stroke-width="0.8"/>
</g>
<rect x="1147.4" y="516.2" width="48.3" height="14.2" fill="#f00d0d"/>
<text x="1153.4" y="527.2" font-family="'Liberation Sans',Arial,sans-serif" font-size="10.3" font-weight="bold" fill="#fff" textLength="38.6" lengthAdjust="spacingAndGlyphs">11788.85</text>
<line x1="764.3" y1="577.7" x2="1127.2" y2="577.7" stroke="#000" stroke-width="2.8"/>
<ellipse cx="765.2" cy="602.2" rx="7.4" ry="23.2" fill="none" stroke="#111" stroke-width="1"/>
<g font-family="'Liberation Sans',Arial,sans-serif" fill="#262626" stroke="#262626" stroke-width="0.25" font-size="15.3">
<text x="713.6" y="593.5" font-size="16.4" textLength="42" lengthAdjust="spacingAndGlyphs">Bullish</text>
<text x="716.6" y="614.6" font-size="16.4" textLength="26.2" lengthAdjust="spacingAndGlyphs">Gap</text>
<text x="861.3" y="594.9" textLength="42.6" lengthAdjust="spacingAndGlyphs">Strong</text>
<text x="908.3" y="594.9" textLength="30.8" lengthAdjust="spacingAndGlyphs">Base</text>
<text x="942.4" y="594.9" textLength="46.4" lengthAdjust="spacingAndGlyphs">around</text>
<text x="992.6" y="594.9" textLength="89" lengthAdjust="spacingAndGlyphs">11630-11591</text>
</g>
<rect x="50" y="147" width="606.3" height="111" rx="19.5" ry="19.5" fill="none" stroke="#3c3c3c" stroke-width="1.3"/>
<rect x="20.4" y="1054.5" width="1198.9" height="598.5" fill="none" stroke="#161616" stroke-width="1.7"/>
</svg>
<div id="ftr" class="abs"><svg width="539" height="51" viewBox="0 0 539 51">
<defs>
<linearGradient id="fb" x1="0" x2="1" y1="0" y2="0">
<stop offset="0" stop-color="#0a2d62"/>
<stop offset="0.12" stop-color="#0a3068"/>
<stop offset="0.3" stop-color="#0e3a6c"/>
<stop offset="0.44" stop-color="#0c3264"/>
<stop offset="0.5" stop-color="#0a2858"/>
<stop offset="0.53" stop-color="#07102e"/>
<stop offset="0.57" stop-color="#05051a"/>
<stop offset="0.75" stop-color="#0d0818"/>
<stop offset="0.92" stop-color="#0b0d1c"/>
<stop offset="1" stop-color="#121a2a"/>
</linearGradient>
<filter id="fb2" x="-10%" y="-50%" width="120%" height="200%"><feGaussianBlur stdDeviation="1.4"/></filter>
<filter id="fb3" x="-30%" y="-50%" width="160%" height="200%"><feGaussianBlur stdDeviation="10"/></filter>
</defs>
<rect width="539" height="51" fill="url(#fb)"/>
<ellipse cx="190" cy="40" rx="60" ry="25" fill="#164470" opacity="0.5" filter="url(#fb3)"/>
<path d="M128 54 Q 225 34 284 -3" fill="none" stroke="#1e7489" stroke-width="4" filter="url(#fb2)"/>
</svg>
</div>
</body></html>
